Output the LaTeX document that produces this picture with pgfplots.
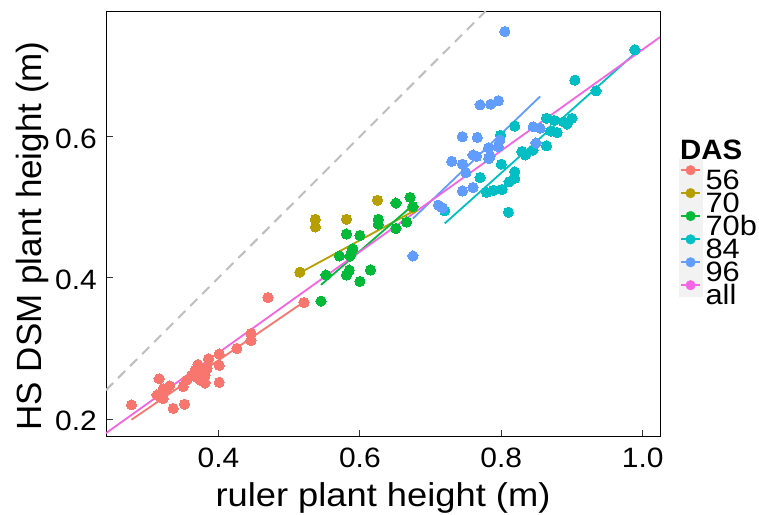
\documentclass[border=0pt]{standalone}
\usepackage{fontspec}
\setmainfont{Liberation Sans}
\newfontfamily\tickfont[FakeStretch=1.07]{Liberation Sans}
\newfontfamily\titlefont[FakeStretch=1.1]{Liberation Sans}
\newfontfamily\legfont[FakeStretch=1.1]{Liberation Sans}
\newfontfamily\legtitlefont[FakeStretch=1.05]{Liberation Sans Bold}
\usepackage{pgfplots}
\pgfplotsset{compat=1.18}
\definecolor{c56}{HTML}{F8766D}
\definecolor{c70}{HTML}{B79F00}
\definecolor{c70b}{HTML}{00BA38}
\definecolor{c84}{HTML}{00BFC4}
\definecolor{c96}{HTML}{619CFF}
\definecolor{call}{HTML}{F564E3}
\definecolor{tickgray}{HTML}{333333}
\definecolor{keybg}{HTML}{F2F2F2}
\definecolor{dashgray}{HTML}{BEBEBE}
\pgfplotsset{
  ggkey/.style={legend image code/.code={
    \fill[keybg] (0pt,-1pt) rectangle (22.7pt,21pt);
    \draw[#1, line width=1.8pt] (2pt,10pt) -- (20.7pt,10pt);
    \fill[#1] (11.35pt,10pt) circle (4.8pt);}},
  pts/.style={only marks, color=#1, mark=*, mark size=5.1pt, mark options={draw=#1, fill=#1, line width=0pt}, forget plot},
  fit/.style={no marks, line width=1.8pt, color=#1, forget plot},
}
\begin{document}
\begin{tikzpicture}
\useasboundingbox (-106pt,-77.3pt) rectangle (653pt,436.7pt);
\begin{axis}[
  at={(0pt,0pt)}, anchor=south west,
  scale only axis, width=554pt, height=425.7pt,
  clip mode=individual,
  xmin=0.2409, xmax=1.0245, ymin=0.1749, ymax=0.778,
  xtick={0.4,0.6,0.8,1.0}, xticklabels={0.4,0.6,0.8,1.0},
  ytick={0.2,0.4,0.6}, yticklabels={0.2,0.4,0.6},
  tick align=inside, xtick pos=bottom, ytick pos=left,
  major tick length=7pt,
  tick style={tickgray, line width=0.9pt},
  axis line style={black, line width=0.9pt},
  xticklabel style={inner sep=0pt, yshift=-11.5pt, font=\tickfont\fontsize{28}{28}\selectfont},
  yticklabel style={inner sep=0pt, xshift=-9pt, yshift=-2pt, font=\tickfont\fontsize{28}{28}\selectfont},
  xlabel={ruler plant height (m)},
  ylabel={HS DSM plant height (m)},
  xlabel style={at={(axis description cs:0.5,-0.1640)}, anchor=base, font=\titlefont\fontsize{33}{33}\selectfont},
  ylabel style={at={(axis description cs:-0.1161,0.4718)}, anchor=base, font=\fontsize{35}{35}\selectfont},
  legend style={at={(axis description cs:1.0343,0.6523)}, anchor=north west, draw=none, fill=none,
    inner sep=0pt, outer sep=0pt, row sep=-8.8pt, column sep=3.5pt,
    font=\legfont\fontsize{28}{1}\selectfont, nodes={inner sep=0pt}},
  legend cell align=left,
]
% 1:1 line
\addplot[no marks, color=dashgray, line width=2pt, dash pattern=on 10pt off 7pt, forget plot]
  coordinates {(0.2409,0.2409) (0.778,0.778)};
% fitted lines
\addplot[fit=c56] coordinates {(0.277,0.199) (0.521,0.366)};
\addplot[fit=c70] coordinates {(0.515,0.407) (0.675,0.494)};
\addplot[fit=c70b] coordinates {(0.545,0.390) (0.675,0.503)};
\addplot[fit=c84] coordinates {(0.720,0.477) (0.989,0.718)};
\addplot[fit=c96] coordinates {(0.675,0.484) (0.855,0.657)};
\addplot[fit=call] coordinates {(0.2409,0.1799) (1.0245,0.7410)};
% points
\addplot[pts=c56] table {
0.470 0.372
0.521 0.365
0.446 0.321
0.446 0.311
0.426 0.300
0.401 0.292
0.401 0.276
0.386 0.285
0.371 0.277
0.379 0.269
0.367 0.269
0.381 0.262
0.374 0.255
0.381 0.251
0.401 0.252
0.362 0.262
0.355 0.255
0.350 0.246
0.331 0.247
0.322 0.243
0.316 0.257
0.313 0.234
0.322 0.229
0.277 0.220
0.336 0.215
0.352 0.221
0.327 0.241
0.369 0.259
0.384 0.272
};
\addplot[pts=c70] table {
0.515 0.408
0.537 0.483
0.537 0.472
0.581 0.483
0.625 0.510
0.675 0.499
};
\addplot[pts=c70b] table {
0.671 0.514
0.675 0.501
0.651 0.506
0.626 0.483
0.626 0.476
0.666 0.479
0.651 0.470
0.581 0.462
0.600 0.460
0.590 0.441
0.586 0.431
0.571 0.431
0.585 0.411
0.581 0.404
0.615 0.411
0.600 0.395
0.552 0.404
0.545 0.367
0.588 0.436
};
\addplot[pts=c84] table {
0.989 0.723
0.904 0.680
0.934 0.665
0.864 0.626
0.875 0.623
0.888 0.621
0.900 0.626
0.870 0.608
0.879 0.606
0.864 0.587
0.819 0.615
0.829 0.579
0.834 0.574
0.845 0.581
0.799 0.602
0.800 0.561
0.819 0.550
0.819 0.541
0.811 0.536
0.801 0.525
0.789 0.524
0.779 0.521
0.770 0.542
0.810 0.493
0.720 0.495
0.893 0.618
};
\addplot[pts=c96] table {
0.805 0.749
0.770 0.645
0.785 0.646
0.796 0.651
0.745 0.600
0.766 0.599
0.730 0.565
0.745 0.561
0.760 0.574
0.765 0.572
0.782 0.584
0.784 0.572
0.782 0.569
0.798 0.595
0.796 0.586
0.845 0.614
0.855 0.612
0.849 0.591
0.750 0.549
0.745 0.523
0.760 0.528
0.717 0.499
0.711 0.503
0.675 0.431
};
% legend
\addlegendimage{ggkey=c56}\addlegendentry{56}
\addlegendimage{ggkey=c70}\addlegendentry{70}
\addlegendimage{ggkey=c70b}\addlegendentry{70b}
\addlegendimage{ggkey=c84}\addlegendentry{84}
\addlegendimage{ggkey=c96}\addlegendentry{96}
\addlegendimage{ggkey=call}\addlegendentry{all}
\node[anchor=west, inner sep=0pt, font=\legtitlefont\fontsize{28}{28}\selectfont] at (axis description cs:1.036,0.6735) {DAS};
\end{axis}
\end{tikzpicture}
\end{document}
